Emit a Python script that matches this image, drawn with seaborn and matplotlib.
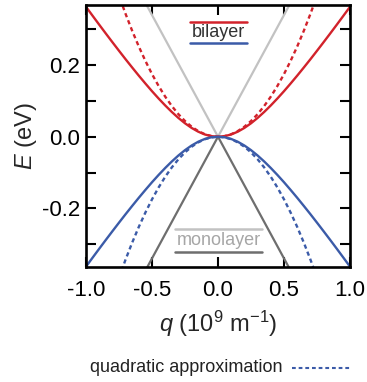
import matplotlib
matplotlib.use("Agg")
import matplotlib.pyplot as plt
from matplotlib.lines import Line2D
import seaborn as sns

# Wave vector q (10^9 m^-1)
q_bi = [-1.00, -0.95, -0.90, -0.85, -0.80, -0.75, -0.70, -0.65, -0.60, -0.55,
        -0.50, -0.45, -0.40, -0.35, -0.30, -0.25, -0.20, -0.15, -0.10, -0.05,
        0.00, 0.05, 0.10, 0.15, 0.20, 0.25, 0.30, 0.35, 0.40, 0.45,
        0.50, 0.55, 0.60, 0.65, 0.70, 0.75, 0.80, 0.85, 0.90, 0.95, 1.00]
# Bilayer conduction band (eV)
E_bi_cond = [0.3630, 0.3379, 0.3130, 0.2884, 0.2641, 0.2401, 0.2164, 0.1933, 0.1706, 0.1486,
             0.1272, 0.1068, 0.0874, 0.0692, 0.0525, 0.0375, 0.0246, 0.0141, 0.0063, 0.0015,
             0.0000, 0.0015, 0.0063, 0.0141, 0.0246, 0.0375, 0.0525, 0.0692, 0.0874, 0.1068,
             0.1272, 0.1486, 0.1706, 0.1933, 0.2164, 0.2401, 0.2641, 0.2884, 0.3130, 0.3379, 0.3630]
# Bilayer valence band (eV)
E_bi_val = [-0.3630, -0.3379, -0.3130, -0.2884, -0.2641, -0.2401, -0.2164, -0.1933, -0.1706, -0.1486,
            -0.1272, -0.1068, -0.0874, -0.0692, -0.0525, -0.0375, -0.0246, -0.0141, -0.0063, -0.0015,
            0.0000, -0.0015, -0.0063, -0.0141, -0.0246, -0.0375, -0.0525, -0.0692, -0.0874, -0.1068,
            -0.1272, -0.1486, -0.1706, -0.1933, -0.2164, -0.2401, -0.2641, -0.2884, -0.3130, -0.3379, -0.3630]

# Quadratic approximation
q_quad = [-0.75, -0.70, -0.65, -0.60, -0.55, -0.50, -0.45, -0.40, -0.35, -0.30, -0.25, -0.20, -0.15,
          -0.10, -0.05, 0.00, 0.05, 0.10, 0.15, 0.20, 0.25, 0.30, 0.35, 0.40, 0.45, 0.50,
          0.55, 0.60, 0.65, 0.70, 0.75]
E_quad_cond = [0.3938, 0.3430, 0.2958, 0.2520, 0.2118, 0.1750, 0.1418, 0.1120, 0.0858, 0.0630, 0.0438,
               0.0280, 0.0158, 0.0070, 0.0018, 0.0000, 0.0018, 0.0070, 0.0158, 0.0280, 0.0438,
               0.0630, 0.0858, 0.1120, 0.1418, 0.1750, 0.2118, 0.2520, 0.2958, 0.3430, 0.3938]
E_quad_val = [-0.3938, -0.3430, -0.2958, -0.2520, -0.2118, -0.1750, -0.1418, -0.1120, -0.0858, -0.0630, -0.0438,
              -0.0280, -0.0158, -0.0070, -0.0018, 0.0000, -0.0018, -0.0070, -0.0158, -0.0280, -0.0438,
              -0.0630, -0.0858, -0.1120, -0.1418, -0.1750, -0.2118, -0.2520, -0.2958, -0.3430, -0.3938]

# Monolayer (linear Dirac cone)
q_mono = [-1.0, 0.0, 1.0]
E_mono_cond = [0.68, 0.0, 0.68]
E_mono_val = [-0.68, 0.0, -0.68]

x_ticks = [-1.0, -0.5, 0.0, 0.5, 1.0]
x_ticklabels = ["-1.0", "-0.5", "0.0", "0.5", "1.0"]
y_ticks = [-0.3, -0.2, -0.1, 0.0, 0.1, 0.2, 0.3]
y_ticklabels = ["", "-0.2", "", "0.0", "", "0.2", ""]

RED = "#d2222b"
BLUE = "#3b5ba8"
LIGHT = "#c2c2c2"
DARK = "#6e6e6e"

sns.set_theme(style="ticks")
plt.rcParams["font.family"] = ["Liberation Sans", "DejaVu Sans"]
plt.rcParams["axes.unicode_minus"] = False
plt.rcParams["mathtext.fontset"] = "custom"
plt.rcParams["mathtext.rm"] = "Liberation Sans"
plt.rcParams["mathtext.it"] = "Liberation Sans:italic"

fig = plt.figure(figsize=(3.67, 3.82), dpi=100)
ax = fig.add_axes([86 / 367, 1 - 267 / 382, 264 / 367, 262 / 382])

lw_main = 1.7
sns.lineplot(x=q_mono, y=E_mono_cond, ax=ax, color=LIGHT, lw=1.6, estimator=None, sort=False)
sns.lineplot(x=q_mono, y=E_mono_val, ax=ax, color=DARK, lw=1.6, estimator=None, sort=False)

sns.lineplot(x=q_quad, y=E_quad_cond, ax=ax, color=RED, lw=lw_main, estimator=None, sort=False)
ax.lines[-1].set_linestyle((0, (1.8, 1.4)))
sns.lineplot(x=q_quad, y=E_quad_val, ax=ax, color=BLUE, lw=lw_main, estimator=None, sort=False)
ax.lines[-1].set_linestyle((0, (1.8, 1.4)))

sns.lineplot(x=q_bi, y=E_bi_cond, ax=ax, color=RED, lw=lw_main, estimator=None, sort=False)
sns.lineplot(x=q_bi, y=E_bi_val, ax=ax, color=BLUE, lw=lw_main, estimator=None, sort=False)

ax.set_xlim(-1.0, 1.0)
ax.set_ylim(-0.364, 0.368)
ax.set_xticks(x_ticks)
ax.set_xticklabels(x_ticklabels)
ax.set_yticks(y_ticks)
ax.set_yticklabels(y_ticklabels)
ax.tick_params(direction="in", length=7.5, width=1.5, top=True, right=True,
               labelsize=16, colors="black")
ax.tick_params(axis="x", pad=9)
ax.tick_params(axis="y", pad=4)
for s in ax.spines.values():
    s.set_linewidth(1.9)
    s.set_color("black")

ax.set_xlabel(r"$q$ (10$^{9}$ m$^{-1}$)", fontsize=17, labelpad=6)
ax.set_ylabel(r"$E$ (eV)", fontsize=17, labelpad=2)

# in-plot keys
tr = ax.transAxes
ax.add_line(Line2D([0.394, 0.610], [0.936, 0.936], transform=tr, color=RED, lw=1.8))
ax.add_line(Line2D([0.394, 0.610], [0.854, 0.854], transform=tr, color=BLUE, lw=1.8))
ax.text(0.502, 0.895, "bilayer", transform=tr, ha="center", va="center",
        fontsize=13, color="#333333")
ax.add_line(Line2D([0.337, 0.667], [0.145, 0.145], transform=tr, color=LIGHT, lw=1.8))
ax.add_line(Line2D([0.337, 0.667], [0.057, 0.057], transform=tr, color=DARK, lw=1.8))
ax.text(0.502, 0.101, "monolayer", transform=tr, ha="center", va="center",
        fontsize=13, color="#a6a6a6")

# bottom note
fig.text(283 / 367, 1 - 368 / 382, "quadratic approximation", ha="right", va="center",
         fontsize=13, color="#222222")
fig.add_artist(Line2D([292 / 367, 352 / 367], [1 - 368 / 382, 1 - 368 / 382],
                      transform=fig.transFigure, color=BLUE, lw=1.5,
                      linestyle=(0, (1.8, 1.4))))

fig.savefig("out.png", dpi=100)
